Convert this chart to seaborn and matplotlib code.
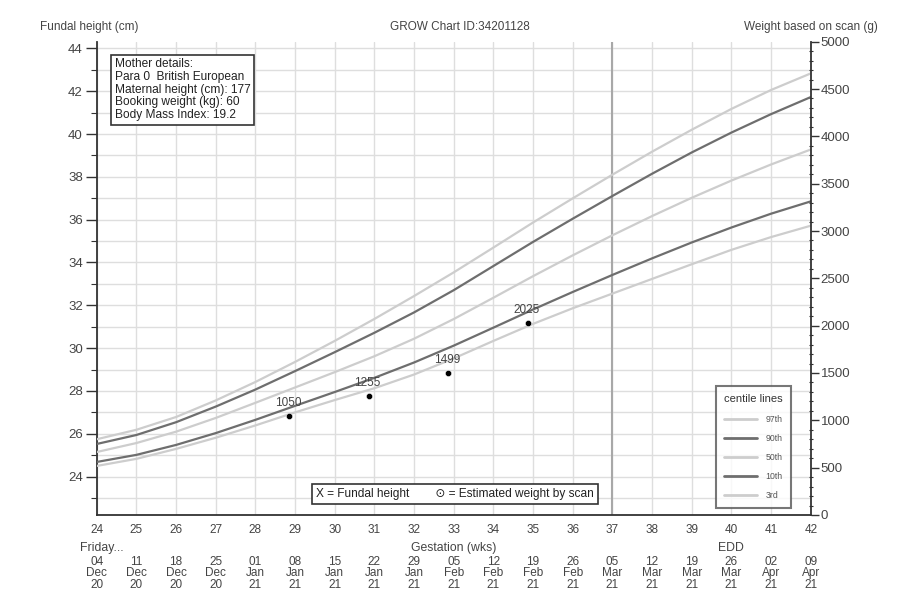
import numpy as np
import pandas as pd
import matplotlib
matplotlib.use('Agg')
import matplotlib.pyplot as plt
import seaborn as sns
from matplotlib.ticker import MultipleLocator
from matplotlib.lines import Line2D

# gestation weeks and centile curves (estimated fetal weight, g)
weeks = list(range(24, 43))
c97 = [800, 900, 1035, 1210, 1405, 1617, 1839, 2071, 2313, 2563, 2825, 3090, 3345, 3595, 3838, 4070, 4290, 4490, 4665]
c90 = [750, 845, 980, 1145, 1325, 1520, 1720, 1925, 2140, 2375, 2630, 2885, 3130, 3370, 3605, 3830, 4040, 4235, 4415]
c50 = [665, 760, 880, 1025, 1185, 1347, 1509, 1677, 1862, 2070, 2295, 2523, 2743, 2955, 3158, 3351, 3533, 3703, 3861]
c10 = [560, 635, 740, 865, 1005, 1153, 1299, 1449, 1611, 1789, 1979, 2171, 2356, 2536, 2711, 2879, 3037, 3183, 3313]
c3 = [518, 593, 698, 816, 946, 1084, 1214, 1339, 1484, 1654, 1839, 2019, 2184, 2339, 2494, 2649, 2801, 2936, 3056]
centile_names = ['97th', '90th', '50th', '10th', '3rd']

# scans
scan_weeks = [28.86, 30.86, 32.86, 34.86]
scan_weights = [1050, 1255, 1499, 2025]

# Friday dates under each week
date_days = ['04', '11', '18', '25', '01', '08', '15', '22', '29', '05', '12', '19', '26', '05', '12', '19', '26', '02', '09']
date_months = ['Dec', 'Dec', 'Dec', 'Dec', 'Jan', 'Jan', 'Jan', 'Jan', 'Jan', 'Feb', 'Feb', 'Feb', 'Feb',
               'Mar', 'Mar', 'Mar', 'Mar', 'Apr', 'Apr']
date_years = ['20', '20', '20', '20', '21', '21', '21', '21', '21', '21', '21', '21', '21',
              '21', '21', '21', '21', '21', '21']

mother_info = ['Mother details:', 'Para 0  British European', 'Maternal height (cm): 177',
               'Booking weight (kg): 60', 'Body Mass Index: 19.2']

sns.set_style('white')
plt.rcParams['font.family'] = ['Liberation Sans', 'DejaVu Sans']

dark = '#6e6e6e'
light = '#cdcdcd'
txt = '#444444'
colors = {'97th': light, '90th': dark, '50th': light, '10th': dark, '3rd': light}

fig = plt.figure(figsize=(9.08, 6), dpi=100)
ax = fig.add_axes([0.1065, 0.1417, 0.7864, 0.7888])
ax2 = ax.twinx()

# left axis: fundal height
ax.set_xlim(24, 42)
ax.set_ylim(22.21, 44.31)
ax.set_yticks(range(24, 45, 2))
ax.yaxis.set_minor_locator(MultipleLocator(1))
ax.set_xticks(weeks)
ax.xaxis.set_minor_locator(MultipleLocator(1 / 7))
for w in weeks:
    ax.axvline(w, color='#dedede', lw=1, zorder=0)
for h in range(23, 45):
    ax.axhline(h, color='#dedede', lw=1, zorder=0)
ax.axvline(37, color='#a8a8a8', lw=1.5, zorder=0)

# right axis: weight
ax2.set_ylim(0, 5000)
ax2.set_yticks(range(0, 5001, 500))
ax2.yaxis.set_minor_locator(MultipleLocator(100))

centile_df = pd.DataFrame({
    'week': weeks * 5,
    'weight': c97 + c90 + c50 + c10 + c3,
    'centile': [n for n in centile_names for _ in weeks],
})
sns.lineplot(data=centile_df, x='week', y='weight', hue='centile', palette=colors,
             ax=ax2, legend=False, linewidth=1.6)
scan_df = pd.DataFrame({'week': scan_weeks, 'weight': scan_weights})
sns.scatterplot(data=scan_df, x='week', y='weight', ax=ax2, color='black', s=20, zorder=5)
for w, g in zip(scan_weeks, scan_weights):
    ax2.annotate(str(g), (w, g), xytext=(-1, 5), textcoords='offset points',
                 ha='center', va='bottom', fontsize=8.5, color=txt)
ax2.set_xlabel('')
ax2.set_ylabel('')
ax.set_xlabel('')
ax.set_ylabel('')

for a in (ax, ax2):
    for s in a.spines.values():
        s.set_color('#333333')
        s.set_linewidth(1.3)
    a.spines['top'].set_visible(False)
ax.spines['right'].set_visible(False)
ax2.spines['left'].set_visible(False)
ax2.spines['bottom'].set_visible(False)

ax.tick_params(axis='x', which='major', direction='inout', length=7, width=1, colors='#333333',
               labelcolor=txt, labelsize=8.5, pad=3)
ax.tick_params(axis='x', which='minor', direction='in', length=3, width=0.8, colors='#333333')
ax.tick_params(axis='y', which='major', direction='out', length=8, width=1, colors='#333333',
               labelcolor=txt, labelsize=9.5, pad=2)
ax.tick_params(axis='y', which='minor', direction='out', length=4, width=0.8, colors='#333333')
ax2.tick_params(axis='y', which='major', direction='out', length=6, width=1, colors='#333333',
                labelcolor=txt, labelsize=9.5, pad=1)
ax2.tick_params(axis='y', which='minor', direction='inout', length=3, width=0.8, colors='#333333')

# mother details box
ax.text(0.025, 0.965, '\n'.join(mother_info), transform=ax.transAxes, ha='left', va='top',
        fontsize=8.6, color='#222222', linespacing=1.08,
        bbox=dict(boxstyle='square,pad=0.3', fc='white', ec='#333333', lw=1.2))

# symbol key box
ax.text(0.502, 0.044, 'X = Fundal height        \u2299 = Estimated weight by scan', transform=ax.transAxes,
        ha='center', va='center', fontsize=8.6, color='#222222',
        bbox=dict(boxstyle='square,pad=0.35', fc='white', ec='#333333', lw=1.2))

# centile legend
handles = [Line2D([0], [0], color=colors[n], lw=2) for n in centile_names]
leg = ax2.legend(handles, centile_names, title='centile lines', loc='lower right',
                 bbox_to_anchor=(0.972, 0.015), fontsize=6.3, title_fontsize=8,
                 frameon=True, fancybox=False, edgecolor='#555555', handlelength=3.8,
                 labelspacing=1.15, borderpad=0.9, handletextpad=1.0, borderaxespad=0)
leg.get_frame().set_linewidth(1.5)
leg._legend_box.sep = 8
for t in leg.get_texts():
    t.set_color('#555555')
leg.get_title().set_color('#333333')

# dates and bottom labels
xt = ax.get_xaxis_transform()
for w, d, m, y in zip(weeks, date_days, date_months, date_years):
    ax.text(w, -0.086, f'{d}\n{m}\n{y}', transform=xt, ha='center', va='top',
            fontsize=8.5, color=txt, linespacing=0.95)
ax.text(23.58, -0.07, 'Friday...', transform=xt, ha='left', va='center', fontsize=8.8, color=txt)
ax.text(33.0, -0.07, 'Gestation (wks)', transform=xt, ha='center', va='center', fontsize=8.8, color=txt)
ax.text(40, -0.07, 'EDD', transform=xt, ha='center', va='center', fontsize=8.8, color=txt)

fig.text(40 / 908, 1 - 27 / 600, 'Fundal height (cm)', ha='left', va='center', fontsize=8.5, color=txt)
fig.text(460 / 908, 1 - 27 / 600, 'GROW Chart ID:34201128', ha='center', va='center', fontsize=8.5, color=txt)
fig.text(878 / 908, 1 - 27 / 600, 'Weight based on scan (g)', ha='right', va='center', fontsize=8.5, color=txt)

fig.savefig('out.png', dpi=100, facecolor='white')
